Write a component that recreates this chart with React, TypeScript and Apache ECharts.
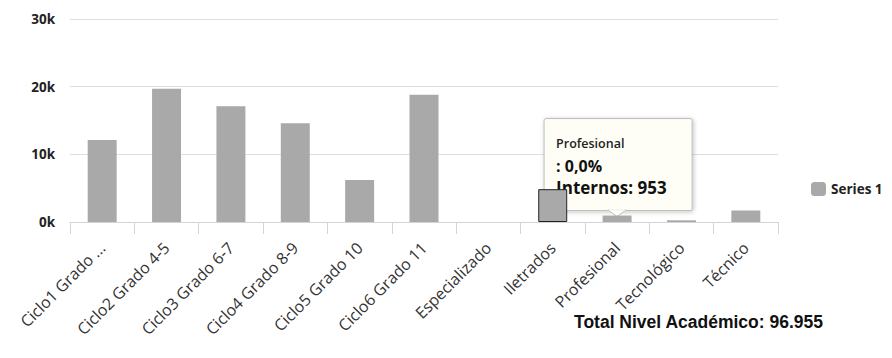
import React, { useEffect, useRef } from "react";
import * as echarts from "echarts";

const categories = [
  "Ciclo1 Grado ...",
  "Ciclo2 Grado 4-5",
  "Ciclo3 Grado 6-7",
  "Ciclo4 Grado 8-9",
  "Ciclo5 Grado 10",
  "Ciclo6 Grado 11",
  "Especializado",
  "Iletrados",
  "Profesional",
  "Tecnológico",
  "Técnico",
];
const values = [12100, 19700, 17100, 14600, 6200, 18800, 0, 4850, 953, 250, 1700];
const yTicks = { min: 0, max: 30000, interval: 10000 };
const seriesName = "Series 1";
const titleText = "Total Nivel Académico: 96.955";
const tipCategory = "Profesional";
const tipLines = ["Profesional", ": 0,0%", "Internos: 953"];
const highlighted = "Iletrados";

export default function App() {
  const ref = useRef<HTMLDivElement>(null);
  useEffect(() => {
    document.body.style.margin = "0";
    const chart = echarts.init(ref.current!, undefined, { renderer: "svg" });
    const font = "'Open Sans', 'DejaVu Sans', sans-serif";
    chart.setOption({
      animation: false,
      backgroundColor: "#ffffff",
      title: {
        text: titleText,
        left: 569,
        top: 308,
        textStyle: { fontFamily: "'Liberation Sans', Arial, sans-serif", fontSize: 17.5, fontWeight: "bold", color: "#111" },
      },
      legend: {
        orient: "vertical",
        left: 806,
        top: 177,
        itemWidth: 15,
        itemHeight: 14,
        itemGap: 6,
        textStyle: { fontFamily: font, fontSize: 13.5, fontWeight: "bold", color: "#222" },
        data: [seriesName],
      },
      grid: { left: 70, right: 114, top: 19, bottom: 136, outerBoundsMode: "none", containLabel: false },
      xAxis: {
        type: "category",
        data: categories,
        axisLine: { lineStyle: { color: "#d4d4d4" } },
        axisTick: { show: true, length: 12, lineStyle: { color: "#d4d4d4" } },
        axisLabel: { rotate: 45, interval: 0, fontFamily: font, fontSize: 16, color: "#333", margin: 23 },
      },
      yAxis: {
        type: "value",
        ...yTicks,
        axisLine: { show: false },
        axisTick: { show: false },
        splitLine: { lineStyle: { color: "#dedede" } },
        axisLabel: {
          margin: 15,
          fontFamily: font,
          fontSize: 13.5,
          fontWeight: "bold",
          color: "#222",
          formatter: (v: number) => v / 1000 + "k",
        },
      },
      series: [
        {
          name: seriesName,
          type: "bar",
          barWidth: "45%",
          itemStyle: { color: "#a9a9a9" },
          data: values.map((v, i) =>
            categories[i] === highlighted
              ? { value: v, itemStyle: { borderColor: "#222", borderWidth: 1 } }
              : v
          ),
        },
      ],
    });

    const idx = categories.indexOf(tipCategory);
    const p = chart.convertToPixel({ xAxisIndex: 0, yAxisIndex: 0 }, [idx, values[idx]]) as number[];
    const px = p[0];
    const tipY = p[1] + 1;
    const w = 148;
    const h = 92;
    const left = px - 73;
    const top = tipY - 98;
    chart.setOption({
      graphic: [
        {
          type: "group",
          z: 100,
          children: [
            {
              type: "rect",
              shape: { x: left, y: top, width: w, height: h, r: 2 },
              style: {
                fill: "#fffef6",
                stroke: "#bdbdbd",
                lineWidth: 1,
                shadowBlur: 4,
                shadowColor: "rgba(0,0,0,0.25)",
                shadowOffsetX: 1,
                shadowOffsetY: 1,
              },
            },
            {
              type: "polygon",
              shape: { points: [[px - 9, top + h - 0.5], [px + 9, top + h - 0.5], [px, tipY]] },
              style: { fill: "#fffef6", stroke: "#bdbdbd", lineWidth: 1 },
            },
            {
              type: "line",
              shape: { x1: px - 8, y1: top + h - 0.5, x2: px + 8, y2: top + h - 0.5 },
              style: { stroke: "#fffef6", lineWidth: 1.5 },
            },
            {
              type: "text",
              x: left + 12,
              y: top + 25,
              style: { text: tipLines[0], fontFamily: font, fontSize: 12.5, fontWeight: 600, fill: "#222", textVerticalAlign: "middle" },
            },
            {
              type: "text",
              x: left + 12,
              y: top + 47,
              style: { text: tipLines[1], fontFamily: font, fontSize: 16, fontWeight: "bold", fill: "#111", textVerticalAlign: "middle" },
            },
            {
              type: "text",
              x: left + 12,
              y: top + 69,
              style: { text: tipLines[2], fontFamily: font, fontSize: 17, fontWeight: "bold", fill: "#111", textVerticalAlign: "middle" },
            },
          ],
        },
      ],
    });
    return () => chart.dispose();
  }, []);
  return <div ref={ref} style={{ width: 892, height: 358 }} />;
}
